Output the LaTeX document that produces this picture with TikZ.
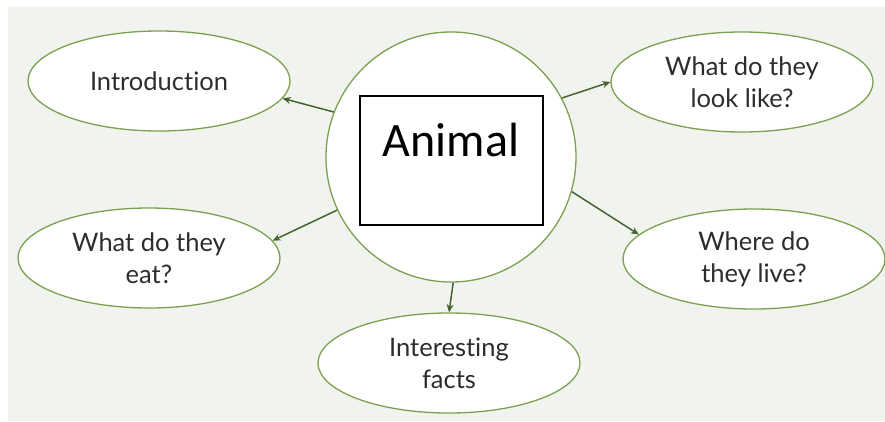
\documentclass[tikz,border=0pt]{standalone}
\usepackage{fontspec}
\setmainfont{Lato}[Ligatures={NoCommon, NoRare}]
\newfontfamily\boxfont{Carlito}
\usepackage{tikz}
\usetikzlibrary{shapes.geometric, arrows.meta}
\definecolor{paper}{RGB}{241,244,238}
\definecolor{leaf}{RGB}{122,160,80}
\definecolor{stem}{RGB}{70,100,50}
\definecolor{ink}{RGB}{45,45,45}
\tikzset{
    topic/.style={draw=leaf, fill=white, ellipse, line width=1.3pt, inner sep=0pt,
        minimum width=262pt, minimum height=100pt, align=center, text=ink,
        font=\fontsize{25.5}{32}\selectfont},
    hub/.style={draw=leaf, fill=white, circle, line width=1.3pt, minimum size=250pt, inner sep=0pt},
    link/.style={draw=stem, line width=1.5pt, -{Stealth[length=8pt, width=7pt]}}
}

\begin{document}
\begin{tikzpicture}[x=1pt, y=-1pt]
    \useasboundingbox (0,0) rectangle (885,421);
    \fill [paper] (8,7) rectangle (885,421);

    \node [hub] (hub) at (451,157) {};
    \draw [black, line width=2pt] (360,96) rectangle (543,225);
    \node [font=\boxfont\fontsize{48}{48}\selectfont] (animal) at (451,140) {Animal};

    \node [topic] (intro) at (159,81) {Introduction};
    \node [topic] (look) at (742,82) {What do they\\look like?};
    \node [topic] (eat) at (149,258) {What do they\\eat?};
    \node [topic] (live) at (754,259) {Where do\\they live?};
    \node [topic] (facts) at (449,363) {Interesting\\facts};

    \draw [link] (hub.159) -- (intro.-8);
    \draw [link] (hub.28) -- (look.west);
    \draw [link] (hub.205) -- (eat.8);
    \draw [link] (hub.-16) -- (live.168);
    \draw [link] (hub.-89) -- (facts.north);
  \end{tikzpicture}
\end{document}
